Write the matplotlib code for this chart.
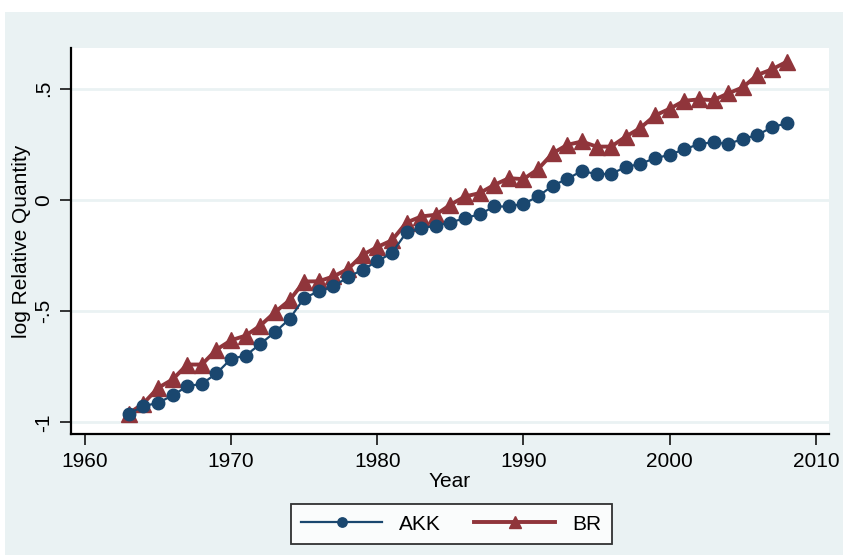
import matplotlib
matplotlib.use("Agg")
import matplotlib.pyplot as plt
from matplotlib.patches import Rectangle

# data
years = list(range(1963, 2009))
akk = [-0.961, -0.927, -0.912, -0.879, -0.837, -0.827, -0.780, -0.714, -0.700, -0.647,
       -0.595, -0.535, -0.441, -0.411, -0.389, -0.347, -0.314, -0.276, -0.239, -0.146,
       -0.127, -0.117, -0.102, -0.082, -0.065, -0.030, -0.030, -0.018, 0.015, 0.064,
       0.094, 0.130, 0.115, 0.117, 0.147, 0.162, 0.187, 0.202, 0.227, 0.250,
       0.259, 0.250, 0.274, 0.291, 0.326, 0.344]
br = [-0.960, -0.915, -0.845, -0.807, -0.740, -0.740, -0.673, -0.631, -0.610, -0.565,
      -0.505, -0.451, -0.367, -0.366, -0.344, -0.311, -0.247, -0.212, -0.182, -0.102,
      -0.075, -0.067, -0.022, 0.015, 0.030, 0.067, 0.097, 0.093, 0.138, 0.209,
      0.247, 0.262, 0.239, 0.239, 0.284, 0.323, 0.379, 0.409, 0.445, 0.451,
      0.448, 0.478, 0.505, 0.561, 0.586, 0.620]

x_ticks = [1960, 1970, 1980, 1990, 2000, 2010]
y_ticks = [-1, -0.5, 0, 0.5]
y_tick_labels = ["-1", "-.5", "0", ".5"]

BG = "#EAF2F3"
NAVY = "#1A476F"
MAROON = "#90353B"

plt.rcParams["font.family"] = ["Liberation Sans", "DejaVu Sans"]

fig = plt.figure(figsize=(8.43, 5.55), dpi=100, facecolor="white")
W, H = 843, 555
# stata-like graph region (light blue-gray), white strip at top/left
fig.patches.append(Rectangle((5 / W, 0), 1 - 5 / W, 1 - 12 / H, transform=fig.transFigure,
                             facecolor=BG, edgecolor="none", zorder=-10))

ax = fig.add_axes([71 / W, (H - 434) / H, (829 - 71) / W, (434 - 48) / H])
ax.set_facecolor("white")

ax.plot(years, akk, color=NAVY, lw=1.6, marker="o", ms=9, mec=NAVY, mfc=NAVY,
        label="AKK", zorder=3)
ax.plot(years, br, color=MAROON, lw=2.8, marker="^", ms=11, mec=MAROON, mfc=MAROON,
        label="BR", zorder=2)

ax.set_xlim(1959.05, 2010.9)
ax.set_ylim(-1.052, 0.682)
ax.set_xticks(x_ticks)
ax.set_yticks(y_ticks)
ax.set_yticklabels(y_tick_labels, rotation=90, va="center")
ax.grid(axis="y", color=BG, lw=2, zorder=0)
ax.set_axisbelow(True)

for side in ("top", "right"):
    ax.spines[side].set_visible(False)
for side in ("left", "bottom"):
    ax.spines[side].set_linewidth(1.6)
    ax.spines[side].set_color("black")

ax.tick_params(axis="both", direction="out", length=8, width=1.1, labelsize=15,
               colors="black", pad=5)

ax.set_xlabel("Year", fontsize=15, labelpad=1)
ax.set_ylabel("log Relative Quantity", fontsize=15, labelpad=2)

leg = fig.legend(loc="center", bbox_to_anchor=(451 / W, (H - 524) / H), ncol=2,
                 fontsize=15, frameon=True, fancybox=False, handlelength=3.9,
                 columnspacing=1.6, handletextpad=0.8, borderpad=0.5, markerscale=0.75)
leg.get_frame().set_edgecolor("black")
leg.get_frame().set_linewidth(1.3)
leg.get_frame().set_facecolor("white")

fig.savefig("out.png", dpi=100, facecolor=fig.get_facecolor())
